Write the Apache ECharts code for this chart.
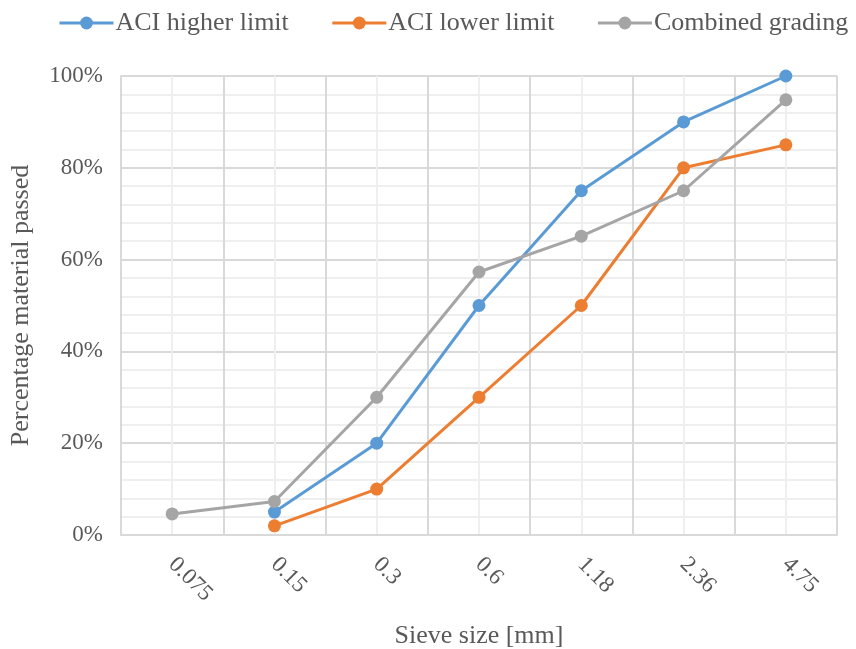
<!DOCTYPE html>
<html>
<head>
<meta charset="utf-8">
<script src="https://cdn.jsdelivr.net/npm/echarts@6/dist/echarts.min.js"></script>
<style>
  html, body { margin: 0; padding: 0; background: #fff; }
  #chart { width: 856px; height: 649px; }
</style>
</head>
<body>
<div id="chart"></div>
<script>
// Sieve sizes (mm) and percentage passing for each grading curve
const sieveSizes = ['0.075', '0.15', '0.3', '0.6', '1.18', '2.36', '4.75'];
const aciHigher = [null, 5, 20, 50, 75, 90, 100];
const aciLower = [null, 2, 10, 30, 50, 80, 85];
const combined = [4.6, 7.3, 30, 57.3, 65.1, 75, 94.8];
const yTicks = [0, 20, 40, 60, 80, 100];

const serif = '"Liberation Serif", "Times New Roman", serif';
const textColor = '#595959';
const majorGrid = '#d9d9d9';
const minorGrid = '#efefef';

const chart = echarts.init(document.getElementById('chart'), null, { renderer: 'canvas' });

function lineSeries(name, data, color) {
  return {
    name: name,
    type: 'line',
    data: data,
    xAxisIndex: 0,
    symbol: 'circle',
    symbolSize: 13,
    connectNulls: false,
    lineStyle: { width: 3, color: color },
    itemStyle: { color: color },
    emphasis: { disabled: true },
    z: 3
  };
}

chart.setOption({
  animation: false,
  backgroundColor: '#fff',
  textStyle: { fontFamily: serif, color: textColor },
  legend: {
    top: 10,
    left: 58,
    width: 798,
    padding: 0,
    itemWidth: 54,
    itemHeight: 16,
    itemGap: 42,
    lineStyle: { width: 3 },
    textStyle: { fontFamily: serif, fontSize: 26, color: textColor, padding: [0, 0, 0, -3] },
    data: ['ACI higher limit', 'ACI lower limit', 'Combined grading']
  },
  grid: { left: 121, right: 19, top: 76, bottom: 114, containLabel: false, outerBoundsMode: 'none' },
  xAxis: [
    {
      type: 'category',
      data: sieveSizes,
      boundaryGap: true,
      name: 'Sieve size [mm]',
      nameLocation: 'middle',
      nameGap: 88,
      nameTextStyle: { fontFamily: serif, fontSize: 26, color: textColor },
      axisLine: { show: true, lineStyle: { color: majorGrid, width: 2 } },
      axisTick: { show: false },
      splitLine: { show: false },
      axisLabel: {
        rotate: -45,
        margin: 26,
        fontFamily: serif,
        fontSize: 23,
        color: textColor
      }
    },
    {
      // helper axis drawing the major/minor vertical grid
      type: 'value',
      position: 'top',
      min: 0,
      max: sieveSizes.length,
      interval: 1,
      show: true,
      axisLine: { show: false },
      axisTick: { show: false },
      axisLabel: { show: false },
      splitLine: { show: true, lineStyle: { color: majorGrid, width: 2 } },
      minorTick: { show: false, splitNumber: 2 },
      minorSplitLine: { show: true, lineStyle: { color: minorGrid, width: 2 } }
    }
  ],
  yAxis: {
    type: 'value',
    min: yTicks[0],
    max: yTicks[yTicks.length - 1],
    interval: 20,
    name: 'Percentage material passed',
    nameLocation: 'middle',
    nameGap: 87,
    nameTextStyle: { fontFamily: serif, fontSize: 26, color: textColor },
    axisLine: { show: true, lineStyle: { color: majorGrid, width: 2 } },
    axisTick: { show: false },
    axisLabel: {
      formatter: '{value}%',
      margin: 18,
      fontFamily: serif,
      fontSize: 23,
      color: textColor
    },
    splitLine: { show: true, lineStyle: { color: majorGrid, width: 2 } },
    minorTick: { show: false, splitNumber: 5 },
    minorSplitLine: { show: true, lineStyle: { color: minorGrid, width: 2 } }
  },
  series: [
    lineSeries('ACI higher limit', aciHigher, '#5B9BD5'),
    lineSeries('ACI lower limit', aciLower, '#ED7D31'),
    lineSeries('Combined grading', combined, '#A5A5A5')
  ]
});
</script>
</body>
</html>
